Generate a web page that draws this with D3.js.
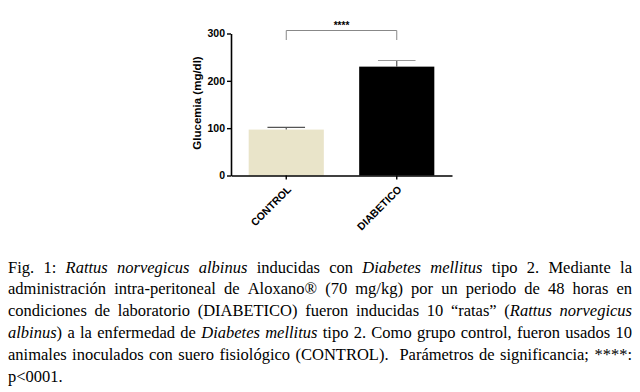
<!DOCTYPE html>
<html>
<head>
<meta charset="utf-8">
<script src="https://cdn.jsdelivr.net/npm/d3@7"></script>
<style>
  html, body { margin: 0; padding: 0; background: #fff; }
  svg { display: block; }
</style>
</head>
<body>
<svg id="chart" width="640" height="392"></svg>
<script>
// ---- data ----
const categories = ["CONTROL", "DIABETICO"];
const means = [97, 230];
const errTops = [101.5, 243];
const barColors = ["#e9e4c9", "#000000"];
const yTicks = [0, 100, 200, 300];
const yLabel = "Glucemia (mg/dl)";
const sigLabel = "****";

// caption: lines of [text, italic] pieces
const captionLines = [
  [["Fig. 1: ", 0], ["Rattus norvegicus albinus", 1], [" inducidas con ", 0], ["Diabetes mellitus", 1], [" tipo 2. Mediante la", 0]],
  [["administración intra-peritoneal de Aloxano® (70 mg/kg) por un periodo de 48 horas en", 0]],
  [["condiciones de laboratorio (DIABETICO) fueron inducidas 10 “ratas” (", 0], ["Rattus norvegicus", 1]],
  [["albinus", 1], [") a la enfermedad de ", 0], ["Diabetes mellitus", 1], [" tipo 2. Como grupo control, fueron usados 10", 0]],
  [["animales inoculados con suero fisiológico (CONTROL).  Parámetros de significancia; ****:", 0]],
  [["p<0001.", 0]]
];

const svg = d3.select("#chart");
const sans = "'Liberation Sans', Arial, sans-serif";

// ---- scales ----
const x = d3.scaleBand().domain(categories).range([231, 452]).paddingInner(0.32).paddingOuter(0.16);
const y = d3.scaleLinear().domain([0, 300]).range([175.5, 33.5]);

// ---- bars ----
svg.append("g").selectAll("rect").data(categories).join("rect")
  .attr("x", d => x(d))
  .attr("y", (d, i) => y(means[i]))
  .attr("width", x.bandwidth())
  .attr("height", (d, i) => y(0) - y(means[i]))
  .attr("fill", (d, i) => barColors[i]);

// ---- error bars ----
const eg = svg.append("g").attr("stroke", "#555").attr("stroke-width", 1.2);
categories.forEach((c, i) => {
  const cx = x(c) + x.bandwidth() / 2;
  eg.append("line").attr("x1", cx).attr("x2", cx).attr("y1", y(means[i])).attr("y2", y(errTops[i]));
  eg.append("line").attr("x1", cx - x.bandwidth() * 0.25).attr("x2", cx + x.bandwidth() * 0.25)
    .attr("y1", y(errTops[i])).attr("y2", y(errTops[i])).attr("stroke", i === 0 ? "#555" : "#999");
});

// ---- axes ----
const yAxis = svg.append("g").attr("transform", "translate(231,0)")
  .call(d3.axisLeft(y).tickValues(yTicks).tickSize(4).tickSizeOuter(0).tickPadding(2));
const xAxis = svg.append("g").attr("transform", `translate(0,${y(0)})`)
  .call(d3.axisBottom(x).tickSize(4).tickSizeOuter(0));
[yAxis, xAxis].forEach(a => {
  a.select(".domain").attr("stroke", "#000").attr("stroke-width", 1.6);
  a.selectAll(".tick line").attr("stroke", "#000").attr("stroke-width", 1.4);
  a.selectAll("text").attr("font-family", sans).attr("font-weight", "bold").attr("font-size", 10.5).attr("fill", "#000");
});
xAxis.selectAll("text")
  .attr("font-size", 10.5)
  .attr("text-anchor", "end")
  .attr("dy", "0.35em")
  .attr("transform", "translate(3,12) rotate(-45)")
  .attr("x", 0).attr("y", 0);

// y label
svg.append("text")
  .attr("transform", "translate(201,103) rotate(-90)")
  .attr("text-anchor", "middle")
  .attr("font-family", sans).attr("font-weight", "bold").attr("font-size", 11.5)
  .text(yLabel);

// significance bracket
const x0 = x(categories[0]) + x.bandwidth() / 2, x1 = x(categories[1]) + x.bandwidth() / 2;
svg.append("path")
  .attr("d", `M${x0},40V30.5H${x1}V40`)
  .attr("fill", "none").attr("stroke", "#888").attr("stroke-width", 1);
svg.append("text")
  .attr("x", (x0 + x1) / 2).attr("y", 28.5)
  .attr("text-anchor", "middle")
  .attr("font-family", sans).attr("font-weight", "bold").attr("font-size", 10)
  .text(sigLabel);

// ---- caption (justified) ----
const left = 8, right = 632, base0 = 272.5, lh = 21.8;
const cap = svg.append("g").attr("font-family", "'Liberation Serif', 'Times New Roman', serif").attr("font-size", 16.5).attr("fill", "#000");
captionLines.forEach((pieces, li) => {
  const words = [[]];
  pieces.forEach(([t, it]) => {
    const parts = t.split(" ");
    parts.forEach((p, k) => {
      if (k > 0) words.push([]);
      if (p.length) words[words.length - 1].push([p, it]);
    });
  });
  const nodes = words.map(w => {
    const t = cap.append("text").attr("y", base0 + li * lh);
    w.forEach(([p, it]) => t.append("tspan").attr("font-style", it ? "italic" : "normal").text(p));
    return t;
  });
  const widths = nodes.map(n => n.node().getComputedTextLength());
  const total = d3.sum(widths);
  const last = li === captionLines.length - 1;
  const gap = last ? 4 : (right - left - total) / (words.length - 1);
  let cx = left;
  nodes.forEach((n, k) => { n.attr("x", cx); cx += widths[k] + gap; });
});
</script>
</body>
</html>
